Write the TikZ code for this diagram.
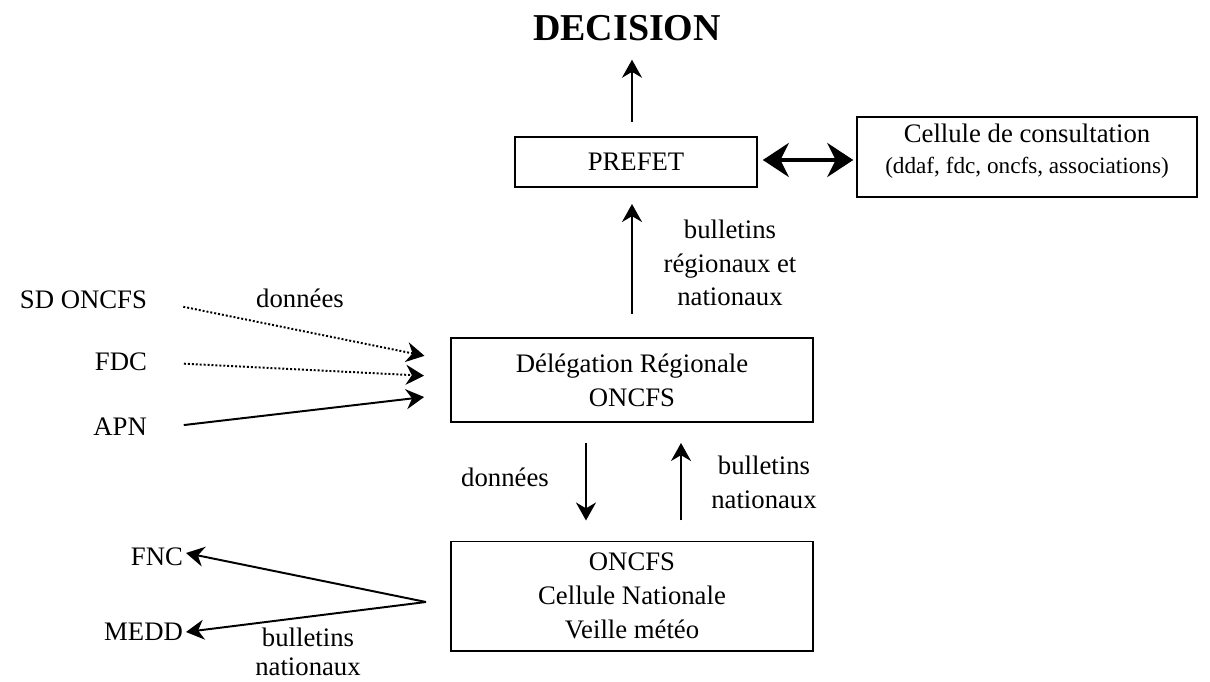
\documentclass[tikz,border=0pt]{standalone}
\usepackage{fontspec}
\setmainfont{Liberation Serif}
\usepackage{tikz}
\usetikzlibrary{arrows.meta}

\begin{document}
\begin{tikzpicture}[
      x=0.025cm, y=-0.025cm,
      box/.style={draw, line width=1.4pt, align=center, inner sep=2pt},
      txt/.style={font=\fontsize{19}{24}\selectfont, align=center, inner sep=2pt},
      arr/.style={-{Stealth[length=4.5mm, width=5mm]}, line width=1.4pt},
      dotarr/.style={arr, dash pattern=on 1.4pt off 1.4pt},
      bigarr/.style={{Stealth[length=6.5mm, width=8.5mm]}-{Stealth[length=6.5mm, width=8.5mm]}, line width=2.8pt}
    ]
      \useasboundingbox (0,0) rectangle (1210,682);

      % Boxes
      \node[box, txt, minimum width=6.05cm, minimum height=1.25cm] (prefet) at (636,162) {PREFET};
      \node[box, txt, minimum width=8.475cm, minimum height=2cm] (cellule) at (1027,157)
        {Cellule de consultation\\[-2pt]{\fontsize{16.5}{20}\selectfont (ddaf, fdc, oncfs, associations)}\\[-12pt]};
      \node[box, txt, minimum width=9.05cm, minimum height=2.1cm] (deleg) at (632,380)
        {D\'el\'egation R\'egionale\\ONCFS};
      \node[box, txt, minimum width=9.05cm, minimum height=2.725cm] (oncfs) at (632,596)
        {ONCFS\\Cellule Nationale\\Veille m\'et\'eo};

      % Top
      \node[font=\fontsize{27}{30}\selectfont\bfseries] (decision) at (627,28) {DECISION};
      \draw[arr, shorten <=0.35cm, shorten >=0.35cm] ([xshift=-0.1cm]prefet.north) -- ([xshift=-0.1cm]prefet.north |- decision.south);
      \draw[bigarr, shorten <=0.12cm, shorten >=0.08cm] ([yshift=0.05cm]prefet.east) -- ([yshift=0.05cm]prefet.east -| cellule.west);

      % Delegation <-> PREFET
      \draw[arr, shorten <=0.575cm, shorten >=0.4cm] (deleg.north) -- (deleg.north |- prefet.south);
      \node[txt] (lblreg) at (730,263) {bulletins\\r\'egionaux et\\nationaux};

      % Delegation <-> ONCFS
      \draw[arr, shorten <=0.5cm, shorten >=0.5cm] ([xshift=-1.15cm]deleg.south) -- ([xshift=-1.15cm]oncfs.north);
      \draw[arr, shorten <=0.5cm, shorten >=0.5cm] ([xshift=1.225cm]oncfs.north) -- ([xshift=1.225cm]deleg.south);
      \node[txt] (lbldon) at (505,477) {donn\'ees};
      \node[txt] (lblnat) at (764,482) {bulletins\\nationaux};

      % Sources
      \node[txt, anchor=east] (sd) at (150,300) {SD ONCFS};
      \node[txt, anchor=east] (fdc) at (150,362) {FDC};
      \node[txt, anchor=east] (apn) at (150,427) {APN};
      \draw[dotarr, shorten <=0.85cm, shorten >=0.65cm] (sd.east) -- ([yshift=0.475cm]deleg.west);
      \draw[dotarr, shorten <=0.85cm, shorten >=0.65cm] (fdc.east) -- ([yshift=0.075cm]deleg.west);
      \draw[arr, shorten <=0.85cm, shorten >=0.65cm] ([yshift=-0.05cm]apn.east) -- ([yshift=-0.35cm]deleg.west);
      \node[txt] (lblsrc) at (300,298) {donn\'ees};

      % Diffusion
      \node[txt, anchor=east] (fnc) at (186,557) {FNC};
      \node[txt, anchor=east] (medd) at (186,632) {MEDD};
      \coordinate (fork) at ([xshift=-0.6cm, yshift=-0.15cm]oncfs.west);
      \draw[arr] (fork) -- ([yshift=0.1cm]fnc.east);
      \draw[arr] (fork) -- (medd.east);
      \node[txt, font=\fontsize{19}{21}\selectfont] (lbldif) at (308,652) {bulletins\\nationaux};
    \end{tikzpicture}
\end{document}
